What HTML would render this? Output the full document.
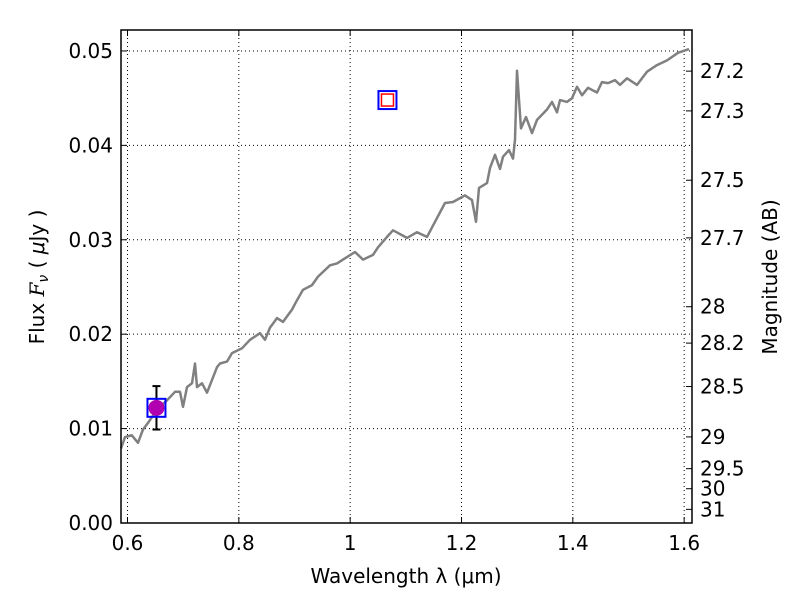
<!DOCTYPE html>
<html><head><meta charset="utf-8"><style>body{margin:0;background:#fff}svg{display:block;font-family:"DejaVu Sans","Liberation Sans",sans-serif}</style></head>
<body>
<svg id="chart" width="800" height="600" viewBox="0 0 800 600"></svg>
<script>
const wavelengths=[0.5883,0.5955,0.6075,0.6189,0.6278,0.6368,0.6530,0.6710,0.6853,0.6943,0.6997,0.7069,0.7159,0.7212,0.7248,0.7338,0.7428,0.7608,0.7662,0.7787,0.7877,0.8057,0.8200,0.8380,0.8470,0.8560,0.8685,0.8793,0.8955,0.9045,0.9152,0.9314,0.9422,0.9638,0.9763,0.9871,1.0087,1.0231,1.0410,1.0500,1.0662,1.0770,1.1021,1.1201,1.1380,1.1524,1.1704,1.1847,1.2063,1.2189,1.2261,1.2315,1.2458,1.2512,1.2602,1.2692,1.2746,1.2854,1.2926,1.2961,1.2997,1.3069,1.3159,1.3267,1.3356,1.3536,1.3626,1.3716,1.3769,1.3895,1.3985,1.4075,1.4165,1.4272,1.4434,1.4524,1.4632,1.4757,1.4847,1.4973,1.5153,1.5332,1.5512,1.5692,1.5889,1.6087];
const fluxes=[0.0079,0.0091,0.0093,0.0085,0.0099,0.0106,0.0120,0.0130,0.0139,0.0139,0.0123,0.0144,0.0148,0.0169,0.0144,0.0148,0.0138,0.0165,0.0169,0.0171,0.0180,0.0185,0.0194,0.0201,0.0194,0.0207,0.0217,0.0213,0.0226,0.0236,0.0247,0.0252,0.0261,0.0273,0.0275,0.0279,0.0287,0.0279,0.0284,0.0292,0.0303,0.0310,0.0302,0.0308,0.0303,0.0319,0.0339,0.0340,0.0347,0.0342,0.0319,0.0355,0.0360,0.0376,0.0390,0.0375,0.0388,0.0395,0.0386,0.0406,0.0479,0.0418,0.0430,0.0413,0.0427,0.0438,0.0446,0.0435,0.0448,0.0446,0.0450,0.0462,0.0453,0.0461,0.0456,0.0467,0.0466,0.0469,0.0464,0.0471,0.0464,0.0478,0.0485,0.0490,0.0498,0.0502];
const xTicks=[0.6,0.8,1.0,1.2,1.4,1.6];
const xTickLabels=["0.6","0.8","1","1.2","1.4","1.6"];
const yTicks=[0,0.01,0.02,0.03,0.04,0.05];
const yTickLabels=["0.00","0.01","0.02","0.03","0.04","0.05"];
const magTicks=[27.2,27.3,27.5,27.7,28,28.2,28.5,29,29.5,30,31];
const photWave=[0.652,1.067];
const photFlux=[0.0122,0.0448];
const photErr=[0.0023,0];
const L=121,R=692,T=30,B=523,xmin=0.5883,xmax=1.6141,ymin=0,ymax=0.05222;
const X=v=>L+(v-xmin)/(xmax-xmin)*(R-L);
const Y=v=>B-(v-ymin)/(ymax-ymin)*(B-T);
const svg=document.getElementById('chart');
const NS='http://www.w3.org/2000/svg';
function mk(tag,attrs,parent){const e=document.createElementNS(NS,tag);for(const k in attrs)e.setAttribute(k,attrs[k]);(parent||svg).appendChild(e);return e;}
xTicks.forEach((t,i)=>{
const g=mk('line',{x1:X(t),x2:X(t),y1:T,y2:B,stroke:'#000','stroke-dasharray':'1,3','stroke-width':1});


mk('line',{x1:X(t),x2:X(t),y1:B,y2:B-6,stroke:'#000'});
mk('line',{x1:X(t),x2:X(t),y1:T,y2:T+6,stroke:'#000'});
const tx=mk('text',{x:X(t),y:B+27,'font-size':20,'text-anchor':'middle'});
tx.textContent=xTickLabels[i];


});
yTicks.forEach((t,i)=>{
const g=mk('line',{x1:L,x2:R,y1:Y(t),y2:Y(t),stroke:'#000','stroke-dasharray':'1,3','stroke-width':1});


mk('line',{x1:L,x2:L+6,y1:Y(t),y2:Y(t),stroke:'#000'});
const tx=mk('text',{x:L-8,y:Y(t)+7,'font-size':20,'text-anchor':'end'});
tx.textContent=yTickLabels[i];


});
magTicks.forEach(m=>{
const f=Math.pow(10,(23.9-m)/2.5);
mk('line',{x1:R,x2:R-6,y1:Y(f),y2:Y(f),stroke:'#000'});
const tx=mk('text',{x:R+8,y:Y(f)+7,'font-size':20});
tx.textContent=String(m);


});
const pts=wavelengths.map((w,i)=>X(w).toFixed(1)+','+Y(fluxes[i]).toFixed(1)).join(' ');
const pl=mk('polyline',{points:pts,fill:'none',stroke:'#808080','stroke-width':2.5,'stroke-linejoin':'round'});


photWave.forEach((w,i)=>{
const cx=X(w),cy=Y(photFlux[i]);
if(photErr[i]>0){
const eb=mk('g',{stroke:'#000','stroke-width':2});


const y1=Y(photFlux[i]+photErr[i]),y2=Y(photFlux[i]-photErr[i]);
mk('line',{x1:cx,x2:cx,y1:y1,y2:y2},eb);
mk('line',{x1:cx-4,x2:cx+4,y1:y1,y2:y1},eb);
mk('line',{x1:cx-4,x2:cx+4,y1:y2,y2:y2},eb);
const c=mk('circle',{cx:cx,cy:cy,r:8,fill:'#b000b0'});


}else{
const r=mk('rect',{x:cx-6,y:cy-6,width:12,height:12,fill:'none',stroke:'#f00','stroke-width':1.5});


}
const s=mk('rect',{x:cx-9,y:cy-9,width:18,height:18,fill:'none',stroke:'#00f','stroke-width':2});


});
const fr=mk('rect',{x:L,y:T,width:R-L,height:B-T,fill:'none',stroke:'#000','stroke-width':1.5});


const xl=mk('text',{x:406,y:583,'font-size':20,'text-anchor':'middle'});
xl.textContent='Wavelength  λ (μm)';


const yl=mk('text',{x:0,y:0,'font-size':20,'text-anchor':'middle',transform:'translate(44,277) rotate(-90)'});


mk('tspan',{},yl).textContent='Flux  ';
mk('tspan',{'font-style':'italic','font-family':'DejaVu Serif, serif'},yl).textContent='F';
mk('tspan',{'font-style':'italic','font-size':14,dy:4},yl).textContent='ν';
mk('tspan',{dy:-4},yl).textContent='  ( ';
mk('tspan',{'font-style':'italic'},yl).textContent='μ';
mk('tspan',{},yl).textContent='Jy )';
const ml=mk('text',{x:0,y:0,'font-size':20,'text-anchor':'middle',transform:'translate(777,277) rotate(-90)'});
ml.textContent='Magnitude (AB)';


</script>
</body></html>
